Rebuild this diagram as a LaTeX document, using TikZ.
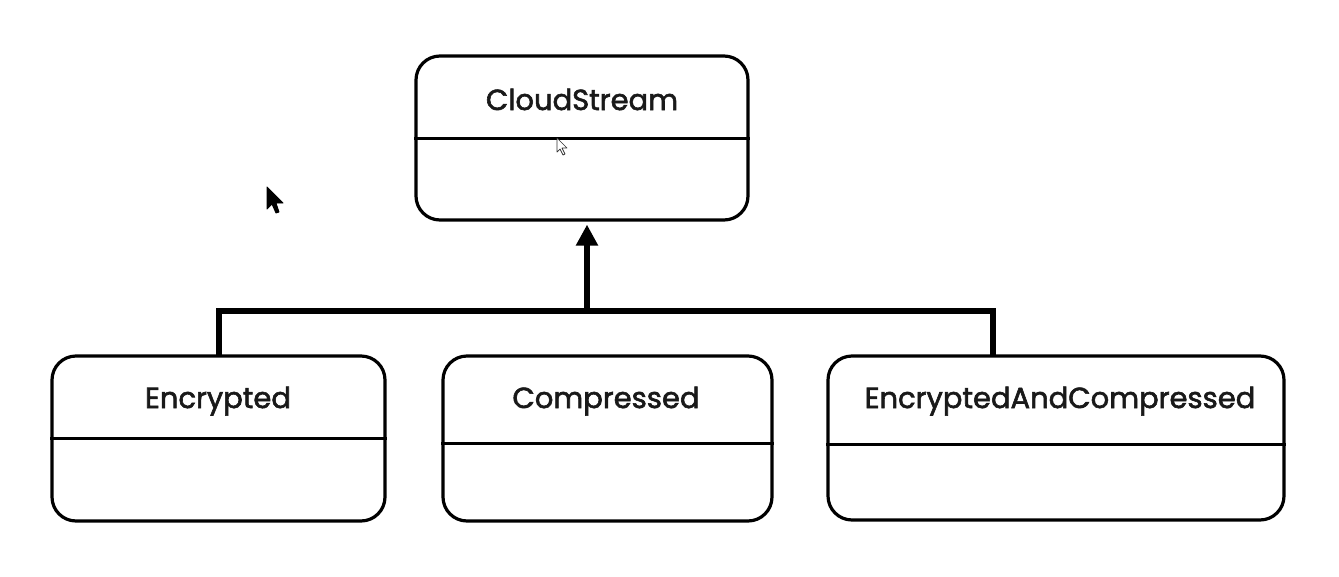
\documentclass[tikz,border=0pt]{standalone}
\usepackage{fontspec}
\setmainfont{Poppins}[FakeBold=2]
\usetikzlibrary{arrows.meta,calc}
\tikzset{
  classbox/.style={draw=black, line width=3.2pt, rounded corners=24pt, inner sep=0pt},
  classname/.style={font=\fontsize{29}{33}\selectfont, text=black!90, inner sep=0pt, anchor=base},
  divider/.style={line width=3pt},
  link/.style={line width=5.5pt},
  inherit/.style={line width=5.5pt, -{Triangle[width=21pt,length=21pt]}, shorten >=3pt},
  cursor/.style={line width=0.9pt, line join=round},
}
\begin{document}
\begin{tikzpicture}[x=1pt,y=-1pt]
  \fill[white] (0,0) rectangle (1339,576);
  \useasboundingbox (0,0) rectangle (1339,576);

  % parent class
  \node[classbox, minimum width=332pt, minimum height=164pt] (cs) at (582,138) {};
  \draw[divider] (cs.west) -- (cs.east);
  \node[classname] (csname) at (582,110) {CloudStream};

  % subclasses
  \node[classbox, minimum width=333pt, minimum height=165pt] (enc) at (218.5,438.5) {};
  \draw[divider] (enc.west) -- (enc.east);
  \node[classname] (encname) at (218,408) {Encrypted};

  \node[classbox, minimum width=329pt, minimum height=165pt] (cmp) at (607.5,438.5) {};
  \draw[divider] ($(cmp.west)+(0,4.5)$) -- ($(cmp.east)+(0,4.5)$);
  \node[classname] (cmpname) at (606,408) {Compressed};

  \node[classbox, minimum width=456pt, minimum height=164pt] (eac) at (1056,438) {};
  \draw[divider] ($(eac.west)+(0,6)$) -- ($(eac.east)+(0,6)$);
  \node[classname] (eacname) at (1060,408) {EncryptedAndCompressed};

  % inheritance tree
  \coordinate (j) at (587,311);
  \coordinate (eactop) at (993,356);
  \coordinate (enctop) at (219,356);
  \draw[link, line join=miter] (enctop) |- (j) -| (eactop);
  \draw[inherit] (j) -- (cs.south -| j);

  % mouse pointers
  \draw[cursor, fill=black, draw=black] (267,187) -- (267,209) -- (272,204) -- (276,213) -- (279,212) -- (276,203) -- (283,203) -- cycle;
  \draw[cursor, fill=white, draw=black!80, line width=0.7pt] (557,138) -- (557,152) -- (560,149) -- (563,155) -- (565,154) -- (562,148) -- (567,148) -- cycle;
\end{tikzpicture}
\end{document}
